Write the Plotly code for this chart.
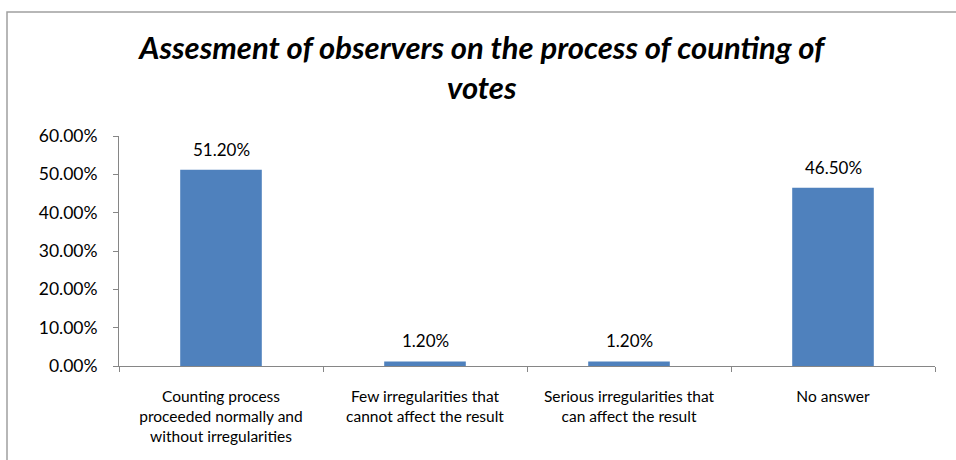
import plotly.graph_objects as go

categories = [
    "Counting process<br>proceeded normally and<br>without irregularities",
    "Few irregularities that<br>cannot affect the result",
    "Serious irregularities that<br>can affect the result",
    "No answer",
]
values = [0.512, 0.012, 0.012, 0.465]
tick_vals = [0, 0.1, 0.2, 0.3, 0.4, 0.5, 0.6]
tick_text = ["0.00%", "10.00%", "20.00%", "30.00%", "40.00%", "50.00%", "60.00%"]
title_text = "Assesment of observers on the process of counting of<br>votes"

FONT = "Lato"
W, H = 956, 460
L, R, T, B = 119, 21, 136, 94
pw, ph = W - L - R, H - T - B

fig = go.Figure()
fig.add_trace(go.Bar(
    x=categories, y=values,
    marker=dict(color="#4F81BD", line=dict(width=0)),
    width=0.4,
    hoverinfo="skip",
))

for c, v in zip(categories, values):
    fig.add_annotation(x=c, y=v, text=f"{v*100:.2f}%", showarrow=False,
                       yanchor="bottom", yshift=8,
                       font=dict(family=FONT, size=17, color="#000000"))

def px_x(p):
    return (p - L) / pw

def px_y(p):
    return (H - B - p) / ph

fig.add_shape(type="rect", xref="paper", yref="paper",
              x0=px_x(7), x1=px_x(1000), y0=px_y(12), y1=px_y(520),
              line=dict(color="#A0A0A0", width=1.5), fillcolor="rgba(0,0,0,0)", layer="below")

fig.update_layout(
    width=W, height=H,
    margin=dict(l=L, r=R, t=T, b=B),
    paper_bgcolor="white", plot_bgcolor="white",
    showlegend=False,
    title=dict(text=title_text, x=0.504, xanchor="center", y=1 - 59 / H, yanchor="middle",
               font=dict(family=FONT, size=31, color="#000000", style="italic", weight="bold")),
    font=dict(family=FONT, color="#000000"),
    xaxis=dict(type="category", tickson="boundaries", ticks="outside", ticklen=5,
               tickcolor="#868686", showline=True, linecolor="#868686", linewidth=1,
               showgrid=False, ticklabelstandoff=16,
               tickfont=dict(family=FONT, size=15.5, color="#000000")),
    yaxis=dict(range=[0, 0.6], tickvals=tick_vals, ticktext=tick_text, ticks="outside",
               ticklen=5, tickcolor="#868686", showline=True, linecolor="#868686",
               linewidth=1, showgrid=False, zeroline=False, ticklabelstandoff=12,
               tickfont=dict(family=FONT, size=17.5, color="#000000")),
)

fig.write_html("out.html")
